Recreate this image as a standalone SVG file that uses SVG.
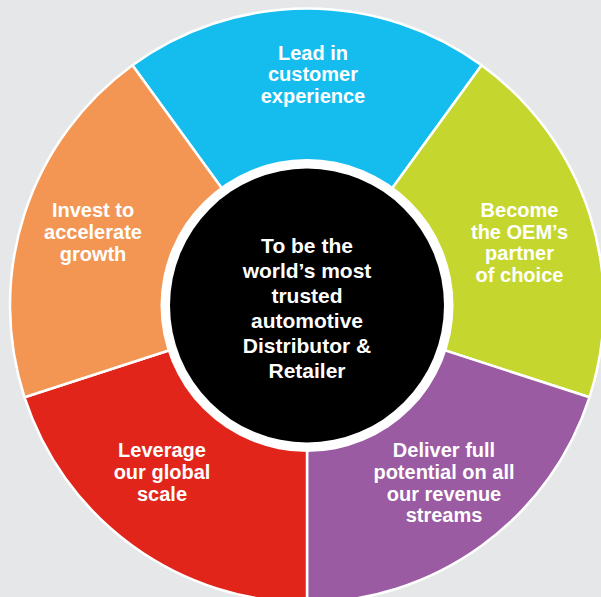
<svg xmlns="http://www.w3.org/2000/svg" width="601" height="597" viewBox="0 0 601 597">
  <style>
    .seg { stroke: #ffffff; stroke-width: 2.5; stroke-linejoin: round; }
    .lbl { font-family: "Liberation Sans", Arial, sans-serif; font-weight: bold; font-size: 20px; fill: #ffffff; text-anchor: middle; }
    .core { font-family: "Liberation Sans", Arial, sans-serif; font-weight: bold; font-size: 21px; fill: #ffffff; text-anchor: middle; }
  </style>
  <rect x="0" y="0" width="601" height="597" fill="#e6e7e8"/>

  <!-- five 72-degree sectors around centre (307, 305.5), radius 297 -->
  <g id="lead-customer-experience">
    <path class="seg" fill="#15bdef" d="M307 305.5 L132.43 65.22 A297 297 0 0 1 481.57 65.22 Z"/>
    <text class="lbl" x="313" y="59.5">Lead in</text>
    <text class="lbl" x="313" y="81">customer</text>
    <text class="lbl" x="313" y="102.5">experience</text>
  </g>
  <g id="oem-partner">
    <path class="seg" fill="#c5d72e" d="M307 305.5 L481.57 65.22 A297 297 0 0 1 589.46 397.28 Z"/>
    <text class="lbl" x="519.5" y="217">Become</text>
    <text class="lbl" x="519.5" y="238.7">the OEM’s</text>
    <text class="lbl" x="519.5" y="260.4">partner</text>
    <text class="lbl" x="519.5" y="282">of choice</text>
  </g>
  <g id="revenue-streams">
    <path class="seg" fill="#9a5ba2" d="M307 305.5 L589.46 397.28 A297 297 0 0 1 307 602.5 Z"/>
    <text class="lbl" x="444" y="457">Deliver full</text>
    <text class="lbl" x="444" y="479">potential on all</text>
    <text class="lbl" x="444" y="500.5">our revenue</text>
    <text class="lbl" x="444" y="522">streams</text>
  </g>
  <g id="global-scale">
    <path class="seg" fill="#e1251b" d="M307 305.5 L307 602.5 A297 297 0 0 1 24.54 397.28 Z"/>
    <text class="lbl" x="162" y="457">Leverage</text>
    <text class="lbl" x="162" y="479">our global</text>
    <text class="lbl" x="162" y="500.5">scale</text>
  </g>
  <g id="invest-growth">
    <path class="seg" fill="#f39654" d="M307 305.5 L24.54 397.28 A297 297 0 0 1 132.43 65.22 Z"/>
    <text class="lbl" x="93" y="217">Invest to</text>
    <text class="lbl" x="93" y="239">accelerate</text>
    <text class="lbl" x="93" y="261">growth</text>
  </g>

  <!-- central vision disc -->
  <g id="vision">
    <circle cx="307" cy="305.5" r="146.5" fill="#ffffff"/>
    <circle cx="307" cy="305.5" r="137" fill="#000000"/>
    <text class="core" x="307" y="253">To be the</text>
    <text class="core" x="307" y="278">world’s most</text>
    <text class="core" x="307" y="303">trusted</text>
    <text class="core" x="307" y="328">automotive</text>
    <text class="core" x="307" y="353">Distributor &amp;</text>
    <text class="core" x="307" y="378">Retailer</text>
  </g>
</svg>
